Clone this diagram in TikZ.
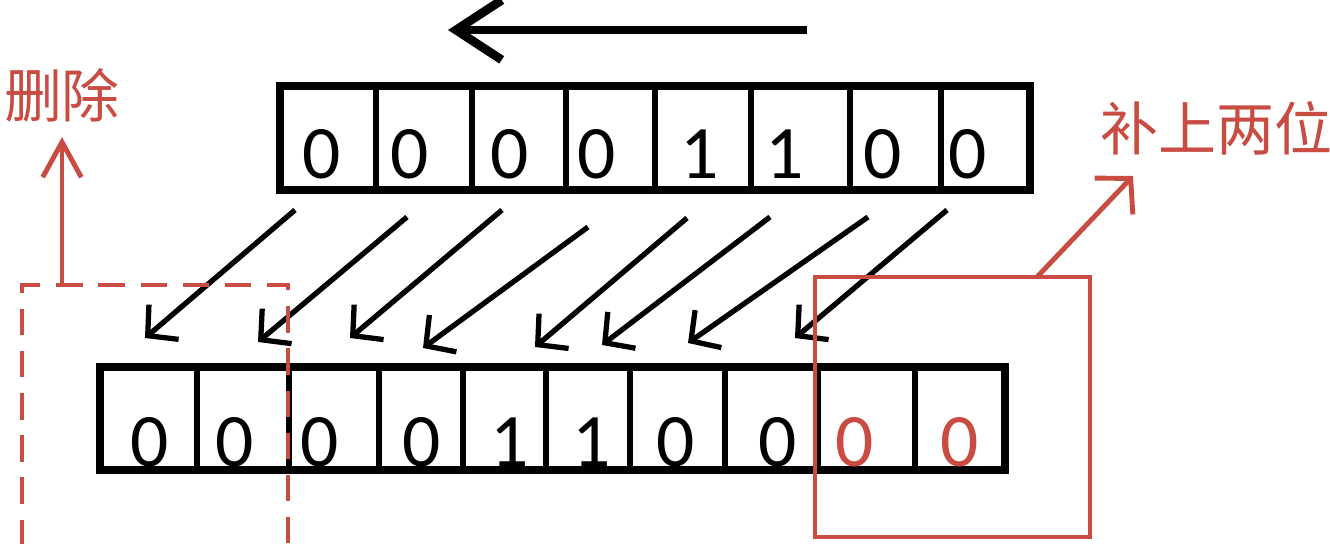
\documentclass[tikz,border=0pt]{standalone}
\usepackage{fontspec}
\setmainfont{Carlito}
\newfontfamily\cjk{Noto Sans CJK SC}
\usetikzlibrary{arrows.meta}
\definecolor{markred}{RGB}{200,76,66}
\tikzset{
  register/.style={line width=5pt},
  divider/.style={line width=3.5pt},
  bit/.style={font=\fontsize{43}{43}\selectfont, inner sep=0pt, anchor=base},
  shiftarrow/.style={line width=3pt, -{Straight Barb[length=12pt,width=26pt]}},
  note/.style={markred, font=\cjk\fontsize{33}{33}\selectfont, inner sep=0pt},
  redline/.style={markred, line width=2.8pt},
}
\begin{document}
\begin{tikzpicture}[x=0.02cm,y=-0.02cm]
    \useasboundingbox (0,0) rectangle (1330,544);

    % Shift direction
    \coordinate (dirS) at (807,30);
    \coordinate (dirE) at (448,30);
    \draw[line width=5pt,-{Straight Barb[length=26pt,width=34pt]}] (dirS) -- (dirE);

    % Original register
    \draw[register] (280,86) rectangle (1030,190);
    \foreach \x in {376,472,566,655,751,850,941}
        \draw[divider] (\x,86) -- (\x,190);
    \foreach \i/\x/\b in {1/322/0,2/410/0,3/510/0,4/597/0,5/700/1,6/785/1,7/883/0,8/968/0}
        \node[bit] (t\i) at (\x,179) {\b};

    % Shifted register
    \draw[register] (100,367) rectangle (1005,470);
    \foreach \x in {197,289,379,463,546,630,725,818,915}
        \draw[divider] (\x,367) -- (\x,470);
    \foreach \i/\x/\b in {1/150/0,2/235/0,3/320/0,4/422/0,5/510/1,6/592/1,7/676/0,8/778/0}
        \node[bit] (b\i) at (\x,466) {\b};
    \node[bit,markred] (b9) at (855,466) {0};
    \node[bit,markred] (b10) at (960,466) {0};

    % Shift arrows
    \foreach \i/\sx/\sy/\ex/\ey in {1/295/210/145/338,2/407/217/258/342,3/502/210/350/338,4/588/227/423/348,
                                    5/687/218/535/347,6/770/217/602/345,7/868/217/688/343,8/947/210/795/338} {
        \coordinate (s\i) at (\sx,\sy);
        \coordinate (e\i) at (\ex,\ey);
        \draw[shiftarrow] (s\i) -- (e\i);
    }

    % Dropped bits
    \draw[redline,dash pattern=on 15pt off 9pt] (22,546) -- (22,285) -- (288,285) -- (288,546);
    \coordinate (delS) at (62,285);
    \coordinate (delE) at (62,137);
    \draw[redline,-{Straight Barb[length=20pt,width=22pt]}] (delS) -- (delE);
    \node[note] (del) at (62,95) {删除};

    % Padded bits
    \draw[redline] (815,277) rectangle (1090,537);
    \coordinate (addS) at (1037,277);
    \coordinate (addE) at (1133,176);
    \draw[redline,-{Straight Barb[length=14pt,width=30pt]}] (addS) -- (addE);
    \node[note,anchor=west] (add) at (1100,128) {补上两位};
\end{tikzpicture}
\end{document}
